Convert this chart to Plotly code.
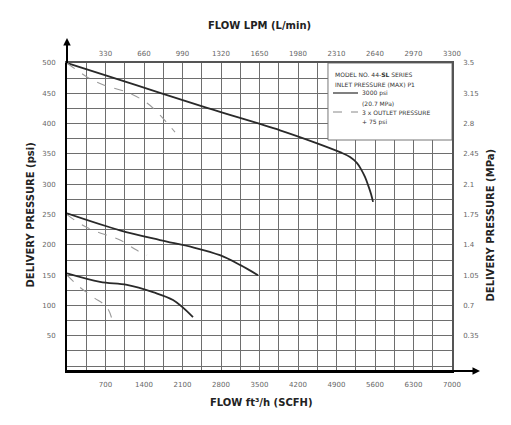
import plotly.graph_objects as go

# ---- tick labels ----
lpm_ticks = [330, 660, 990, 1320, 1650, 1980, 2310, 2640, 2970, 3300]
scfh_ticks = [700, 1400, 2100, 2800, 3500, 4200, 4900, 5600, 6300, 7000]
psi_ticks = [50, 100, 150, 200, 250, 300, 350, 400, 450, 500]
mpa_labels = ["0.35", "0.7", "1.05", "1.4", "1.75", "2.1", "2.45", "2.8", "3.15", "3.5"]

# ---- curves: flow (L/min) vs delivery pressure (psi) ----
s500_lpm = [0, 600, 1200, 1826, 2109, 2340, 2426, 2486, 2520, 2554, 2580, 2606, 2623]
s500_psi = [500, 463, 426, 389, 370, 353, 345, 335, 325, 312, 299, 284, 271]
d500_lpm = [0, 171, 309, 514, 686, 797, 926]
d500_psi = [500, 477, 464, 452, 434, 414, 386]

s250_lpm = [0, 454, 797, 1080, 1311, 1483, 1637]
s250_psi = [252, 224, 208, 196, 183, 167, 150]
d250_lpm = [0, 111, 223, 454, 600, 686]
d250_psi = [250, 235, 224, 208, 191, 183]

s150_lpm = [0, 283, 514, 737, 909, 1080]
s150_psi = [153, 139, 134, 122, 109, 81]
d150_lpm = [0, 111, 223, 343, 394]
d150_psi = [150, 130, 114, 97, 71]

fig = go.Figure()

solid = dict(color="#2a2a2a", width=1.8, shape="spline")
dashed = dict(color="#9a9a9a", width=1.1, dash="dash", shape="spline")

for xs, ys, ln in [
    (s500_lpm, s500_psi, solid), (d500_lpm, d500_psi, dashed),
    (s250_lpm, s250_psi, solid), (d250_lpm, d250_psi, dashed),
    (s150_lpm, s150_psi, solid), (d150_lpm, d150_psi, dashed),
]:
    fig.add_trace(go.Scatter(x=xs, y=ys, mode="lines", line=ln,
                             xaxis="x2", yaxis="y", showlegend=False,
                             hoverinfo="skip"))

# invisible anchor trace so the bottom (SCFH) and right (MPa) axes are drawn
fig.add_trace(go.Scatter(x=[0], y=[0], mode="markers", marker=dict(opacity=0),
                         xaxis="x", yaxis="y2", showlegend=False, hoverinfo="skip"))

grid_col = "#6e6e6e"
tick_font = dict(family="DejaVu Sans", size=7, color="#666")

fig.update_layout(
    width=495, height=409, autosize=False,
    margin=dict(l=59, r=51, t=55, b=46),
    paper_bgcolor="white", plot_bgcolor="white",
    showlegend=False,
    xaxis=dict(range=[0, 7000], tickmode="array", tickvals=scfh_ticks,
               ticktext=[str(v) for v in scfh_ticks], showgrid=False,
               zeroline=False, showline=True, linecolor="black", linewidth=2,
               ticks="", tickfont=tick_font, ticklabelstandoff=6),
    xaxis2=dict(range=[0, 3300], overlaying="x", side="top", tickmode="array",
                tickvals=lpm_ticks, ticktext=[str(v) for v in lpm_ticks],
                showgrid=True, gridcolor=grid_col, gridwidth=1.4,
                minor=dict(tickmode="linear", tick0=0, dtick=165, showgrid=True,
                           gridcolor=grid_col, gridwidth=1.4),
                zeroline=False, showline=True, linecolor="#555", linewidth=1.5,
                ticks="", tickfont=tick_font, ticklabelstandoff=2),
    yaxis=dict(range=[-8, 500], tickmode="array", tickvals=psi_ticks,
               ticktext=[str(v) for v in psi_ticks], showgrid=True,
               gridcolor=grid_col, gridwidth=1.4,
               minor=dict(tickmode="linear", tick0=0, dtick=25, showgrid=True,
                          gridcolor=grid_col, gridwidth=1.4),
               zeroline=False, showline=True, linecolor="black", linewidth=2,
               ticks="", tickfont=tick_font, ticklabelstandoff=8),
    yaxis2=dict(range=[-8, 500], overlaying="y", side="right", tickmode="array",
                tickvals=psi_ticks, ticktext=mpa_labels, showgrid=False,
                zeroline=False, showline=True, linecolor="#555", linewidth=1.5,
                ticks="", tickfont=tick_font, ticklabelstandoff=8),
)

# legend box covering the grid
fig.add_shape(type="rect", xref="x2", yref="y", x0=2237, x1=3300, y0=373, y1=500,
              fillcolor="white", line=dict(color="#777", width=1), layer="above")

def px(x):
    return (x - 67) / 385.0

def py(y):
    return (371 - y) / 308.0

# legend sample lines
fig.add_shape(type="line", xref="paper", yref="paper", x0=px(333), x1=px(358),
              y0=py(93), y1=py(93), line=dict(color="#2a2a2a", width=1.2), layer="above")
fig.add_shape(type="line", xref="paper", yref="paper", x0=px(333), x1=px(358),
              y0=py(112), y1=py(112), line=dict(color="#888", width=1, dash="dash"), layer="above")

leg_font = dict(family="DejaVu Sans", size=6, color="#333")
for txt, x, y in [
    ("MODEL NO. 44-<b>SL</b> SERIES", 333, 74),
    ("INLET PRESSURE (MAX) P1", 333, 84),
    ("3000 psi", 360, 93),
    ("(20.7 MPa)", 360, 103),
    ("3 x OUTLET PRESSURE", 360, 112),
    ("+ 75 psi", 360, 122),
]:
    fig.add_annotation(text=txt, xref="paper", yref="paper", x=px(x), y=py(y),
                       xanchor="left", yanchor="middle", showarrow=False, font=leg_font)

# axis extensions with arrows
fig.add_shape(type="line", xref="paper", yref="paper", x0=0, x1=px(476),
              y0=0, y1=0, line=dict(color="black", width=2))
fig.add_annotation(xref="paper", yref="paper", x=px(480), y=0, ax=-14, ay=0,
                   showarrow=True, arrowhead=2,
                   arrowsize=1, arrowwidth=1.5, arrowcolor="black", text="")
fig.add_shape(type="line", xref="paper", yref="paper", x0=0, x1=0,
              y0=1, y1=py(42), line=dict(color="black", width=2))
fig.add_annotation(xref="paper", yref="paper", x=0, y=py(38), ax=0, ay=14,
                   showarrow=True, arrowhead=2,
                   arrowsize=1, arrowwidth=1.5, arrowcolor="black", text="")

title_font = dict(family="DejaVu Sans", size=10, color="#222")
fig.add_annotation(text="<b>FLOW LPM (L/min)</b>", xref="paper", yref="paper",
                   x=px(260), y=py(18), showarrow=False, font=title_font)
fig.add_annotation(text="<b>FLOW ft³/h (SCFH)</b>", xref="paper", yref="paper",
                   x=px(262), y=py(410), showarrow=False, font=title_font)
fig.add_annotation(text="<b>DELIVERY PRESSURE (psi)</b>", xref="paper", yref="paper",
                   x=px(22), y=py(215), textangle=-90, showarrow=False, font=title_font)
fig.add_annotation(text="<b>DELIVERY PRESSURE (MPa)</b>", xref="paper", yref="paper",
                   x=px(497), y=py(225), textangle=-90, showarrow=False, font=title_font)

fig.write_html("out.html")
